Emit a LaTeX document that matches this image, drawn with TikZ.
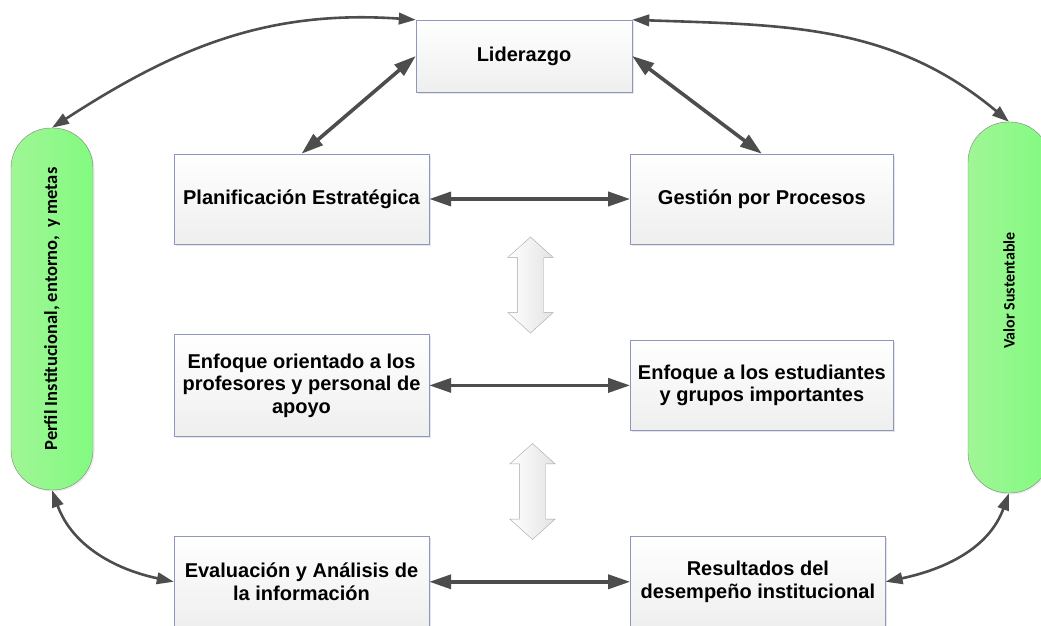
\documentclass[tikz,border=0pt]{standalone}
\usepackage{fontspec}
\setmainfont{Liberation Sans}
\newfontfamily\pillfont{Carlito}
\usetikzlibrary{shapes,arrows.meta,positioning,shadows}

\definecolor{boxline}{RGB}{140,150,190}
\definecolor{linkgray}{RGB}{77,77,77}
\definecolor{pillleft}{RGB}{160,246,150}
\definecolor{pillright}{RGB}{130,250,128}

\begin{document}
\begin{tikzpicture}[
    x=1pt, y=1pt,
    node distance=90pt,
    box/.style={rectangle, draw=boxline, top color=white, bottom color=gray!13, minimum width=255pt, minimum height=90pt, inner sep=0pt, align=center, font=\fontsize{20}{22.5}\selectfont\bfseries, drop shadow={opacity=0.2, shadow xshift=2pt, shadow yshift=-2pt}},
    pill/.style={rectangle, rounded corners=40pt, draw=gray, left color=pillleft, right color=pillright, minimum width=82pt, minimum height=362pt, inner sep=0pt, font=\pillfont\bfseries, drop shadow={opacity=0.15, shadow xshift=1.5pt, shadow yshift=-1.5pt}},
    hollow/.style={double arrow, rotate=90, draw=gray!70, left color=white, right color=gray!22, minimum height=96pt, inner xsep=0pt, inner ysep=13pt, double arrow head extend=9.5pt, double arrow tip angle=96},
    link/.style={<->, >={Triangle[length=22pt,width=14pt]}, draw=linkgray, line width=3.6pt},
    loop/.style={<->, >={Triangle[length=17pt,width=11.5pt]}, draw=linkgray, line width=2.6pt}
]
\useasboundingbox (0,0) rectangle (1041,626);

% top: leadership
\node[box, minimum width=216pt, minimum height=72pt] (lid) at (524,570) {Liderazgo};

% left column
\node[box] (plan) at (301.5,427) {Planificación Estratégica};
\node[box, minimum height=102pt, below=of plan] (prof) {Enfoque orientado a los\\profesores y personal de\\apoyo};
\node[box, minimum height=92pt, below=99pt of prof] (eval) {Evaluación y Análisis de\\la información};

% right column
\node[box, minimum width=263pt, right=201pt of plan] (gest) {Gestión por Procesos};
\node[box, minimum width=263pt, right=201pt of prof] (estu) {Enfoque a los estudiantes\\y grupos importantes};
\node[box, minimum height=92pt, right=201pt of eval] (resu) {Resultados del\\desempeño institucional};

% side pills
\node[pill] (perfil) at (52,317) {\rotatebox{90}{\fontsize{18.5}{22}\selectfont Perfil Institucional, entorno, \ y metas}};
\node[pill, minimum height=371pt] (valor) at (1009,318.5) {\rotatebox{90}{\fontsize{16}{19}\selectfont\hspace{34pt}Valor Sustentable}};

% hollow arrows between rows
\node[hollow] (updA) at (530.5,341) {};
\node[hollow] (updB) at (532.5,134.5) {};

% straight links
\draw[link] (lid.west) -- (plan.north);
\draw[link] (lid.east) -- (gest.north);
\draw[link] (plan) -- (gest);
\draw[link] (prof) -- (estu);
\draw[link] (eval) -- (resu);

% outer loop
\draw[loop] (perfil.north) to[out=33, in=176] (lid.north west);
\draw[loop] (lid.north east) to[out=-2, in=140] (valor.north);
\draw[loop] (perfil.south) to[out=-70, in=168] (eval.west);
\draw[loop] (valor.south) to[out=-110, in=12] (resu.east);

\end{tikzpicture}
\end{document}
